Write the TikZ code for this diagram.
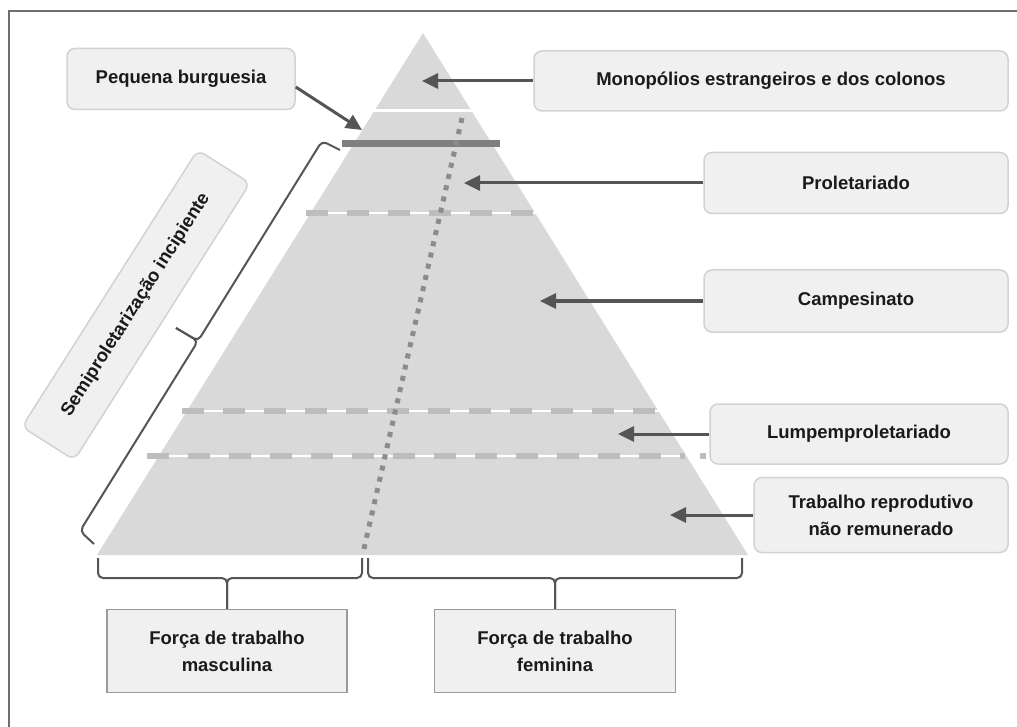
\documentclass[tikz,border=0pt]{standalone}
\usepackage{fontspec}
\setmainfont{Liberation Sans}
\usetikzlibrary{arrows.meta}

\definecolor{pyrgray}{HTML}{D9D9D9}
\definecolor{boxfill}{HTML}{F0F0F0}
\definecolor{boxline}{HTML}{D2D2D2}
\definecolor{forceline}{HTML}{9A9A9A}
\definecolor{linegray}{HTML}{555555}
\definecolor{framegray}{HTML}{6E6E6E}
\definecolor{dashgray}{HTML}{BDBDBD}
\definecolor{dotgray}{HTML}{8C8C8C}
\definecolor{bargray}{HTML}{7F7F7F}
\definecolor{txtblack}{HTML}{1A1A1A}

\tikzset{
  classbox/.style={draw=boxline, fill=boxfill, line width=1.5pt, rounded corners=8pt,
    inner sep=0pt, align=center, text=txtblack,
    font=\fontsize{18.5}{27}\selectfont\bfseries},
  forcebox/.style={draw=forceline, fill=boxfill, line width=1.5pt,
    inner sep=0pt, align=center, text=txtblack,
    font=\fontsize{18.5}{27}\selectfont\bfseries},
  pointer/.style={linegray, line width=3pt, -{Triangle[length=16pt,width=15pt]}},
  bracket/.style={linegray, line width=2pt, rounded corners=5pt},
  stratum/.style={dashgray, line width=5.5pt, dash pattern=on 22pt off 19pt},
  divide/.style={dotgray, line width=5pt, dash pattern=on 5pt off 6.5pt}
}

\begin{document}
\begin{tikzpicture}[x=1pt, y=-1pt]
  \useasboundingbox (0,0) rectangle (1017,727);

    % Frame of the figure
  \draw[framegray, line width=1.5pt] (1017,11) -- (9,11) -- (9,727);

    % Pyramid and its strata
  \fill[pyrgray] (97,555) -- (423,33) -- (748,555) -- cycle;
  \draw[white, line width=3pt] (368,111) -- (478,111);
  \draw[bargray, line width=7pt] (342,144) -- (500,144);
  \foreach \y/\a/\b in {213/306/543, 411/182/673, 456/147/685} {
    \draw[white, line width=2pt] (\a,\y) -- (\b,\y);
    \draw[stratum] (\a,\y) -- (\b,\y);
  }
  \draw[stratum] (700,456) -- (706,456);

    % Split between male and female labour
  \draw[divide] (462,118) -- (363,553);

    % Class labels
  \node[classbox, minimum width=228pt, minimum height=61pt] (pb) at (181,79) {Pequena burguesia};
  \node[classbox, minimum width=474pt, minimum height=60pt] (mono) at (771,81) {Monopólios estrangeiros e dos colonos};
  \node[classbox, minimum width=304pt, minimum height=61pt] (prol) at (856,183) {Proletariado};
  \node[classbox, minimum width=304pt, minimum height=62pt] (camp) at (856,301) {Campesinato};
  \node[classbox, minimum width=298pt, minimum height=60pt] (lump) at (859,434) {Lumpemproletariado};
  \node[classbox, minimum width=254pt, minimum height=75pt] (trab) at (881,515) {Trabalho reprodutivo\\não remunerado};
  \node[classbox, rotate=57.6, minimum width=328pt, minimum height=62pt] (semi) at (136,305) {Semiproletarização incipiente};

    % Labour force labels
  \node[forcebox, minimum width=240pt, minimum height=83pt] (masc) at (227,651) {Força de trabalho\\masculina};
  \node[forcebox, minimum width=241pt, minimum height=83pt] (fem) at (555,651) {Força de trabalho\\feminina};

    % Arrows into the pyramid
  \coordinate (pbtip) at (362,130);
  \coordinate (monotip) at (422,79);
  \coordinate (proltip) at (464,180);
  \coordinate (camptip) at (540,300);
  \coordinate (lumptip) at (618,432);
  \coordinate (trabtip) at (670,515);
  \draw[pointer] (pb.-4) -- (pbtip);
  \draw[pointer] (mono.west) -- (mono.west -| monotip);
  \draw[pointer] (prol.west) -- (prol.west -| proltip);
  \draw[pointer] (camp.west) -- (camp.west -| camptip);
  \draw[pointer] (lump.west) -- (lump.west -| lumptip);
  \draw[pointer] (trab.west) -- (trab.west -| trabtip);

    % Braces
  \draw[bracket] (340,150) -- (322,141) -- (198,341) -- (176,328);
  \draw[bracket] (94,544) -- (80,531) -- (198,341) -- (176,328);
  \draw[bracket] (98,558) -- (98,578) -- (227,578) -- (masc.north);
  \draw[bracket] (362,558) -- (362,578) -- (227,578) -- (masc.north);
  \draw[bracket] (368,558) -- (368,578) -- (555,578) -- (fem.north);
  \draw[bracket] (742,558) -- (742,578) -- (555,578) -- (fem.north);
\end{tikzpicture}
\end{document}
